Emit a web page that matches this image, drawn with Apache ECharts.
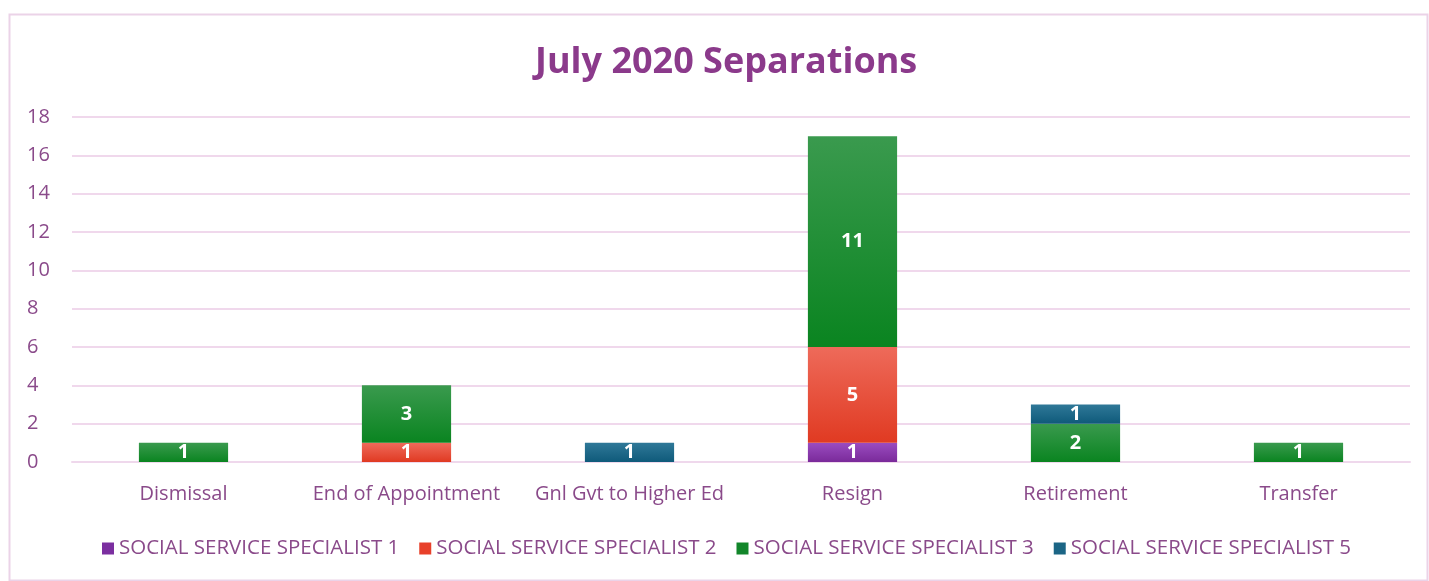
<!DOCTYPE html>
<html><head><meta charset="utf-8">
<script src="https://cdn.jsdelivr.net/npm/echarts@6/dist/echarts.min.js"></script>
<style>html,body{margin:0;padding:0;background:#fff;}#c{width:1429px;height:581px;}</style>
</head><body><div id="c"></div>
<script>
const categories = ["Dismissal","End of Appointment","Gnl Gvt to Higher Ed","Resign","Retirement","Transfer"];
const seriesNames = ["SOCIAL SERVICE SPECIALIST 1","SOCIAL SERVICE SPECIALIST 2","SOCIAL SERVICE SPECIALIST 3","SOCIAL SERVICE SPECIALIST 5"];
const ss1 = [null,null,null,1,null,null];
const ss2 = [null,1,null,5,null,null];
const ss3 = [1,3,null,11,2,1];
const ss5 = [null,null,1,null,1,null];
const yTicks = [0,2,4,6,8,10,12,14,16,18];

const colors = [["#9a4cc0","#7a2a9a"],["#ee6a5a","#e03a22"],["#3a9a4e","#0a8420"],["#2f7898","#0f5a7a"]];
const solid = ["#7b2fa0","#e8402a","#12862a","#1b6585"];
const data = [ss1,ss2,ss3,ss5];
const font = "'Open Sans', 'Liberation Sans', sans-serif";
const txt = "#8a4a8a";

const chart = echarts.init(document.getElementById('c'));
chart.setOption({
  animation:false,
  backgroundColor:'#fff',
  graphic:[{type:'rect',left:7,top:12,shape:{width:1418,height:566},style:{fill:'none',stroke:'#ebd3e8',lineWidth:2},silent:true}],
  title:{text:'July 2020 Separations',left:530,top:40,textStyle:{color:'#8b3a8b',fontSize:36,fontWeight:'bold',fontFamily:font}},
  grid:{left:72,right:19,top:117,bottom:119,containLabel:false},
  legend:{bottom:17,left:97,itemWidth:12,itemHeight:12,itemGap:20,icon:'rect',
    data:seriesNames.map((n,i)=>({name:n,itemStyle:{color:solid[i]}})),
    textStyle:{color:txt,fontSize:20.5,fontFamily:font,padding:[0,0,0,0]}},
  xAxis:{type:'category',data:categories,axisLine:{show:true,lineStyle:{color:'#efd8ec',width:2}},axisTick:{show:false},
    axisLabel:{color:txt,fontSize:20,fontFamily:font,margin:22,interval:0}},
  yAxis:{type:'value',min:0,max:18,interval:2,axisLine:{show:false},axisTick:{show:false},
    splitLine:{lineStyle:{color:'#f0d8ec',width:2}},
    axisLabel:{color:txt,fontSize:20,fontFamily:font,margin:45,align:'left',formatter:v=>yTicks.includes(v)?String(v):''}},
  series:seriesNames.map((n,i)=>({
    name:n,type:'bar',stack:'total',barWidth:'40%',data:data[i],
    itemStyle:{color:new echarts.graphic.LinearGradient(0,0,0,1,[{offset:0,color:colors[i][0]},{offset:1,color:colors[i][1]}])},
    label:{show:true,position:'inside',color:'#fff',fontWeight:'bold',fontSize:20,fontFamily:font,formatter:p=>p.value?String(p.value):''}
  }))
});
</script></body></html>
